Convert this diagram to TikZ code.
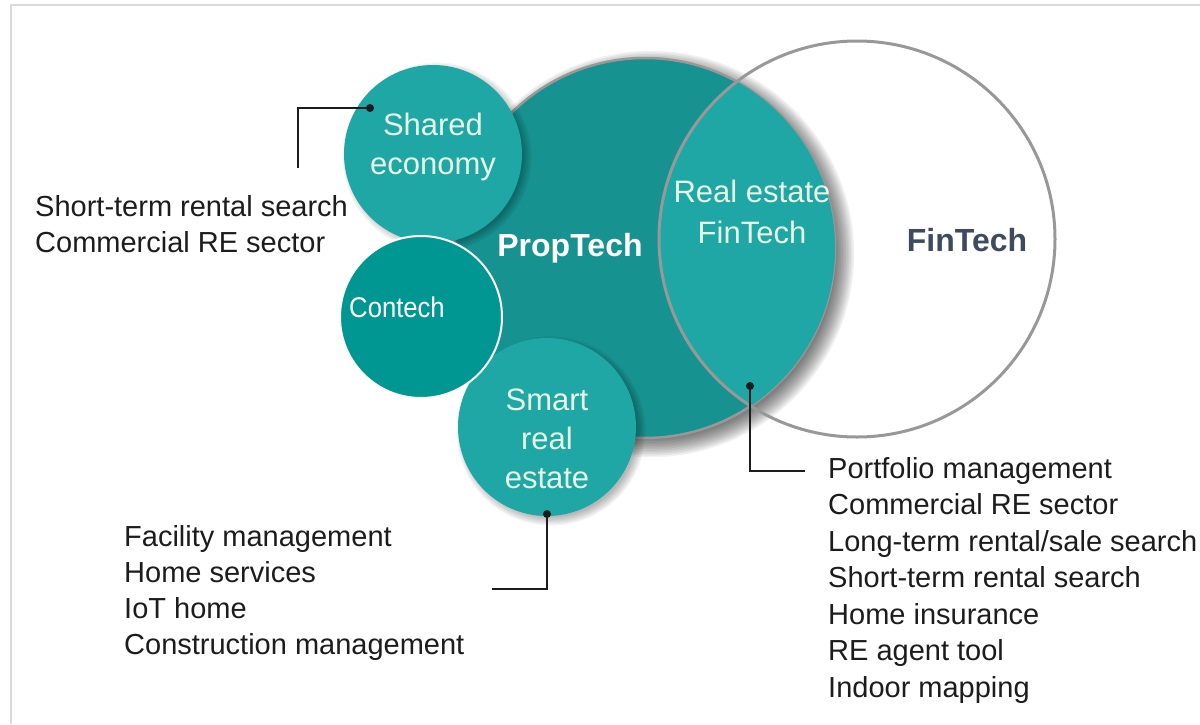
\documentclass[tikz,border=0pt]{standalone}
\usepackage{fontspec}
\setmainfont{Liberation Sans}
\newfontfamily\narrowfont{Liberation Sans}[FakeStretch=0.9]
\usepackage{tikz}

\definecolor{proptech}{RGB}{22,146,144}
\definecolor{lightteal}{RGB}{30,167,164}
\definecolor{contech}{RGB}{0,150,146}
\definecolor{cream}{RGB}{232,247,230}
\definecolor{fintechtext}{RGB}{61,74,95}
\definecolor{rimgray}{RGB}{152,152,152}
\definecolor{framegray}{RGB}{218,218,218}
\definecolor{listtext}{RGB}{28,28,28}

\tikzset{
  bubble/.style={circle, inner sep=0pt, fill=lightteal, minimum size=178pt},
  bubbletext/.style={align=center, inner sep=0pt, text=cream, font=\fontsize{31}{39}\selectfont},
  item/.style={anchor=base west, inner sep=0pt, text=listtext, font=\fontsize{29}{36}\selectfont},
  leader/.style={line width=1.4pt, draw=listtext},
  haze/.style={black, opacity=.055},
}

\begin{document}
\begin{tikzpicture}[x=1pt,y=-1pt]
  \useasboundingbox (0,0) rectangle (1200,724);
  \draw[framegray, line width=2pt] (11,724) -- (11,5) -- (1200,5);

  \foreach \k in {1,...,12}
    \fill[haze] (651,254) circle [radius=184pt+\k*1.6pt];
  \node[circle, inner sep=0pt, minimum size=380pt, fill=proptech, draw=rimgray, line width=2.5pt]
    (prop) at (645,248) {};
  \begin{scope}
    \clip (prop.center) circle [radius=190pt];
    \fill[lightteal] (857,239) circle [radius=198pt];
  \end{scope}
  \node[circle, inner sep=0pt, minimum size=396pt, draw=rimgray, line width=3pt] (fin) at (857,239) {};

  \foreach \k in {1,...,8}
    \fill[haze, opacity=.035] (437,157) circle [radius=85pt+\k*1.2pt];
  \node[bubble] (shared) at (433,154) {};
  \foreach \k in {1,...,8}
    \fill[haze, opacity=.04] (551,431) circle [radius=85pt+\k*1.2pt];
  \node[bubble] (smart) at (547,427) {};
  \node[bubble, minimum size=162pt, fill=contech, draw=white, line width=2pt] (contech) at (421,317) {};

  \node[bubbletext] (sharedtxt) at (433,146.6) {Shared\\economy};
  \node[bubbletext] (smarttxt) at (547,439) {Smart\\real\\estate};
  \node[bubbletext, font=\fontsize{31}{41}\selectfont] (retxt) at (752,212.4) {Real estate\\FinTech};
  \node[anchor=base, inner sep=0pt, text=white, font=\narrowfont\fontsize{28.5}{34}\selectfont] (contechtxt) at (397,317) {Contech};
  \node[anchor=base, inner sep=0pt, text=white, font=\bfseries\fontsize{32}{38}\selectfont] (proptxt) at (570,256) {PropTech};
  \node[anchor=base, inner sep=0pt, text=fintechtext, font=\bfseries\fontsize{32}{38}\selectfont] (fintxt) at (967,251) {FinTech};

  \coordinate (sedot) at (370,108);
  \coordinate (seend) at (298,168);
  \coordinate (redot) at (750,386);
  \coordinate (reend) at (805,471);
  \coordinate (smdot) at (547,514);
  \coordinate (smend) at (492,589);
  \draw[leader] (sedot) -| (seend);
  \draw[leader] (redot) |- (reend);
  \draw[leader] (smdot) |- (smend);
  \foreach \d in {sedot,redot,smdot}
    \fill[listtext] (\d) circle [radius=4pt];

  \foreach \t [count=\i from 0] in {Short-term rental search, Commercial RE sector}
    \node[item] (se\i) at (35,216.5+36*\i) {\t};
  \foreach \t [count=\i from 0] in {Facility management, Home services, IoT home, Construction management}
    \node[item] (sm\i) at (124,546+36.3*\i) {\t};
  \foreach \t [count=\i from 0] in {Portfolio management, Commercial RE sector, Long-term rental/sale search,
      Short-term rental search, Home insurance, RE agent tool, Indoor mapping}
    \node[item] (re\i) at (828,478+36.5*\i) {\t};
\end{tikzpicture}
\end{document}
